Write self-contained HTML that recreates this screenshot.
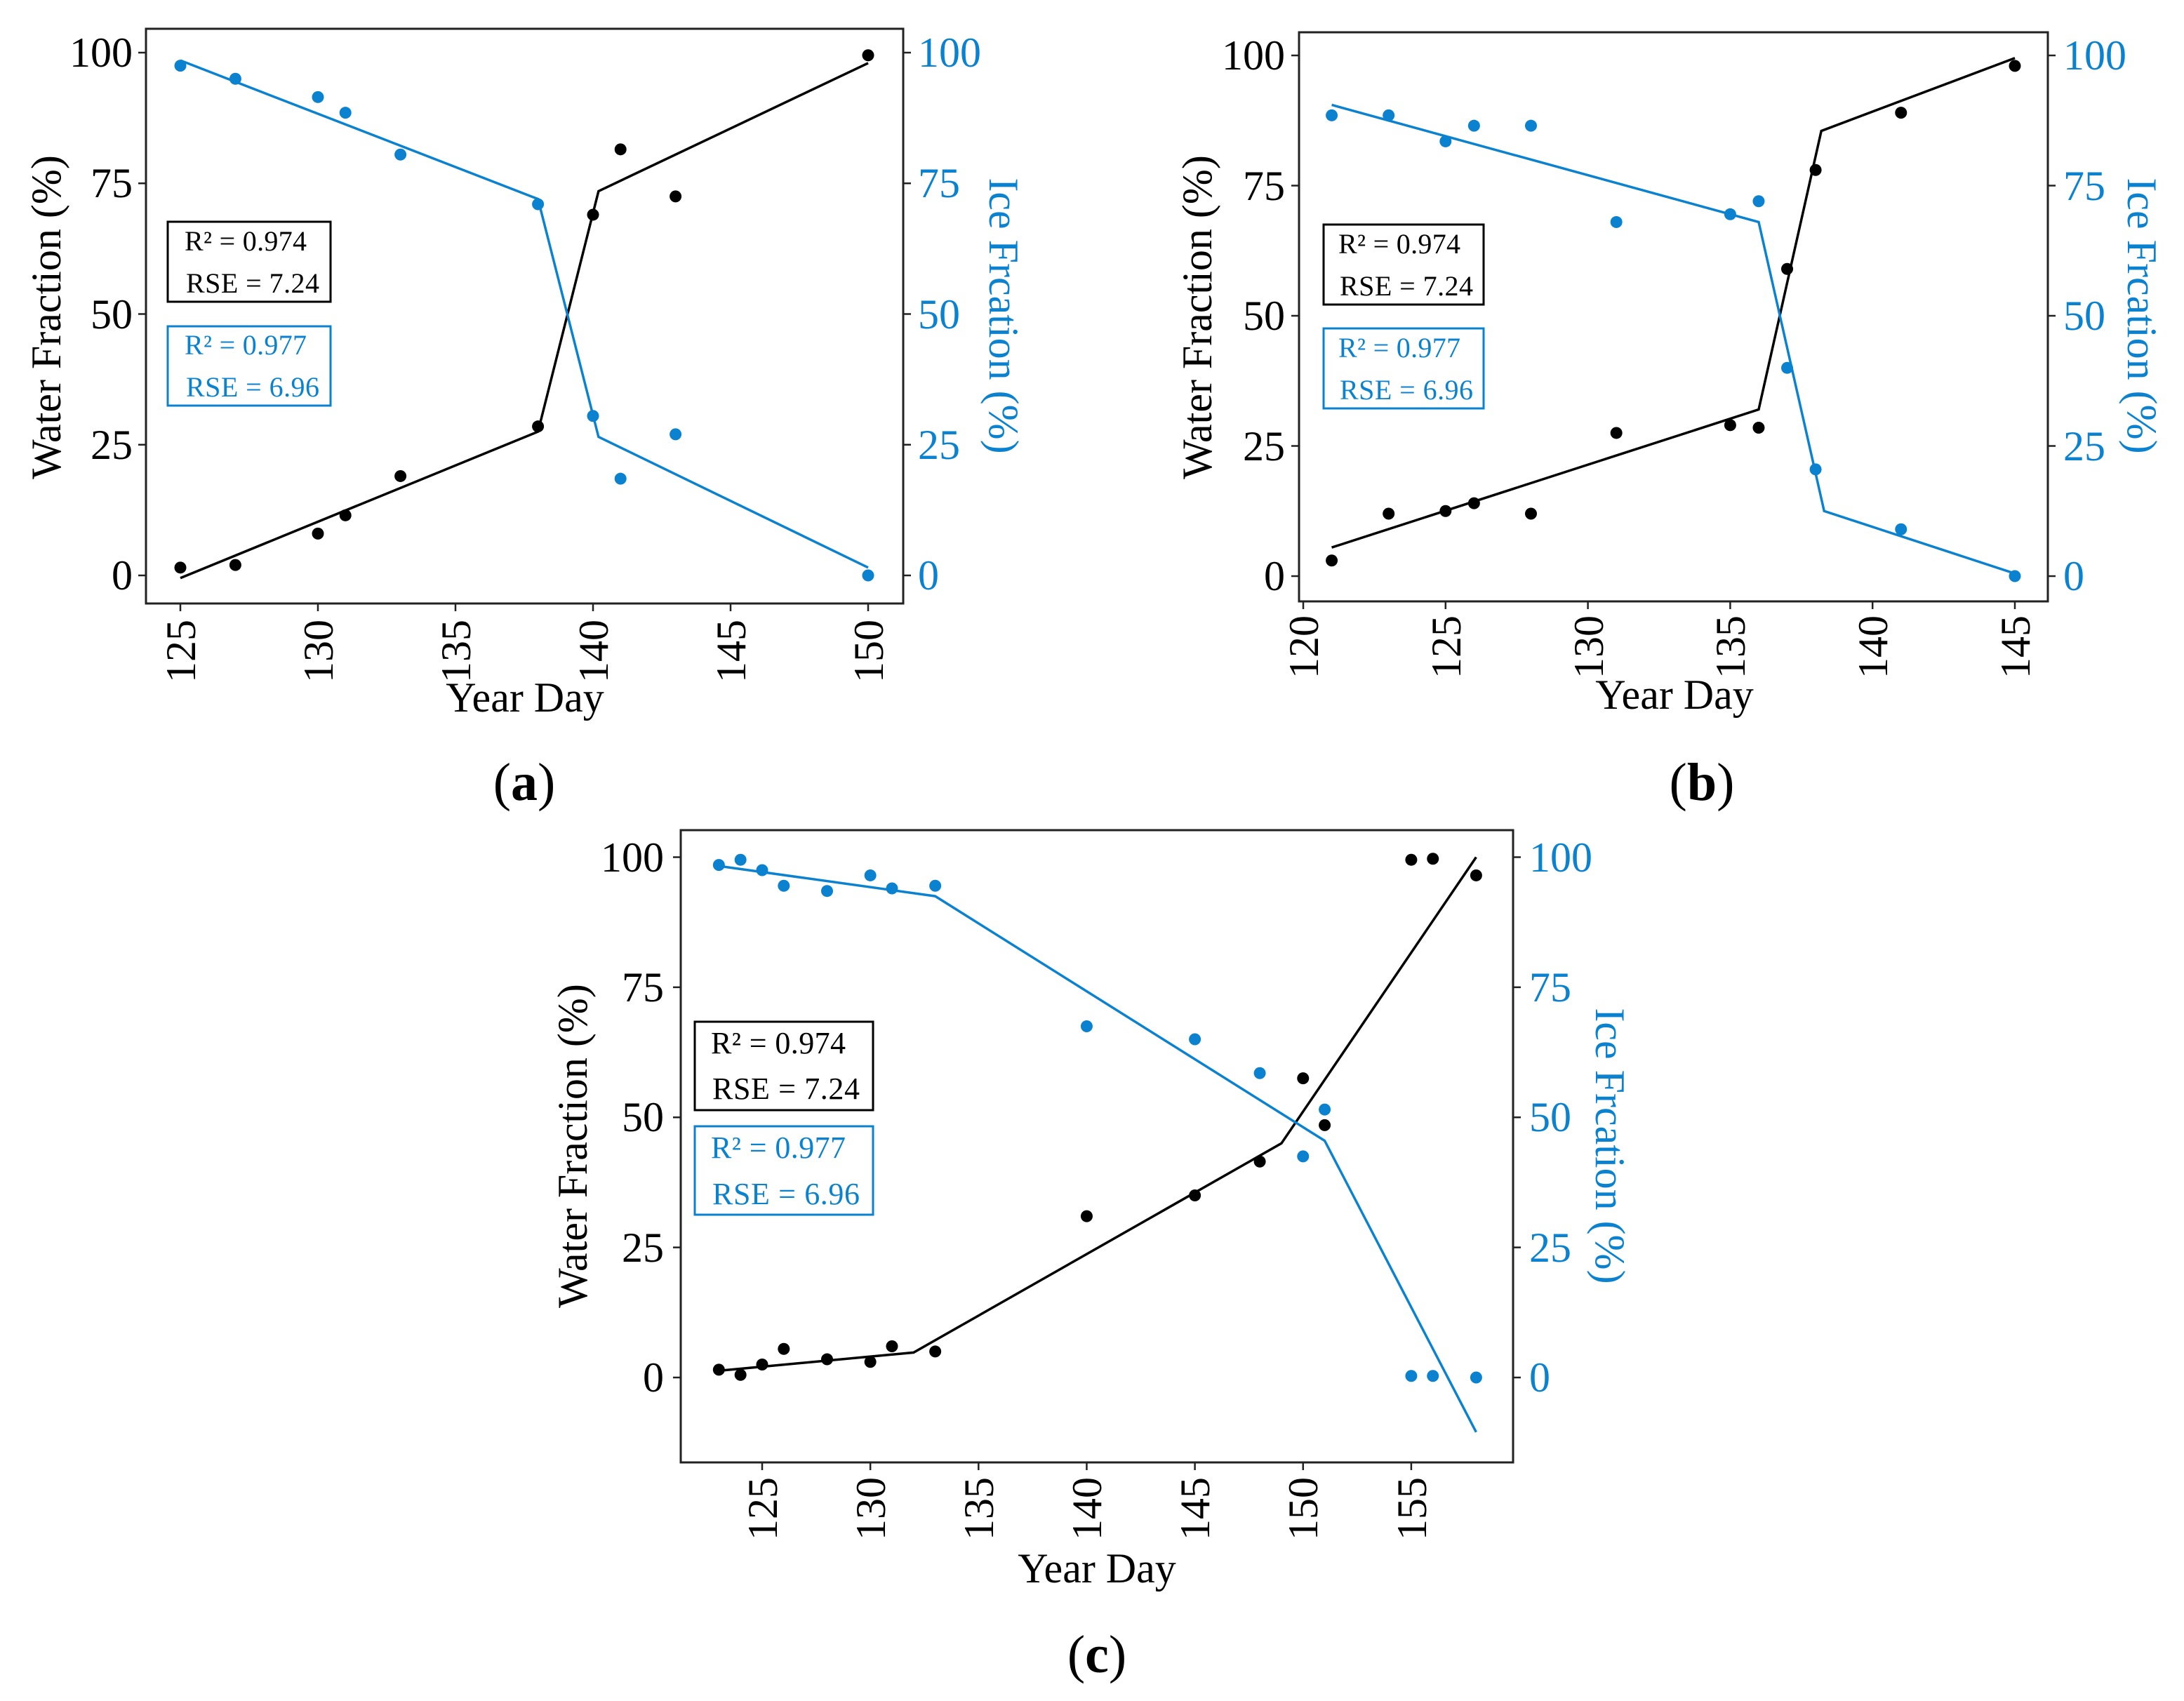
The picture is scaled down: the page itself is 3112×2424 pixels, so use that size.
<!DOCTYPE html>
<html><head><meta charset="utf-8"><style>
html,body{margin:0;padding:0;background:#fff;}
svg{display:block;}
text{font-family:"Liberation Serif",serif;}
.t{font-size:60px;fill:#000;}
.tb{font-size:60px;fill:#0b82d0;}
.lg{font-size:40px;fill:#000;}
.lgb{font-size:40px;fill:#0b82d0;}
.ax{font-size:60px;fill:#000;}
.axb{font-size:60px;fill:#0b82d0;}
.pl{font-size:76px;fill:#000;}
</style></head><body>
<svg id="s" width="3112" height="2424" viewBox="0 0 3112 2424" xmlns="http://www.w3.org/2000/svg">
<rect width="3112" height="2424" fill="#fff"/>
<g id="shapes"></g>

<!-- Panel a text -->
<g text-anchor="end" class="t"><text x="189" y="95">100</text><text x="189" y="281">75</text><text x="189" y="468">50</text><text x="189" y="654">25</text><text x="189" y="840">0</text></g>
<g class="tb"><text x="1308" y="95">100</text><text x="1308" y="281">75</text><text x="1308" y="468">50</text><text x="1308" y="654">25</text><text x="1308" y="840">0</text></g>
<g text-anchor="end" class="t">
<text transform="translate(278,883) rotate(-90)">125</text>
<text transform="translate(474,883) rotate(-90)">130</text>
<text transform="translate(670,883) rotate(-90)">135</text>
<text transform="translate(866,883) rotate(-90)">140</text>
<text transform="translate(1062,883) rotate(-90)">145</text>
<text transform="translate(1258,883) rotate(-90)">150</text>
</g>
<text class="ax" text-anchor="middle" transform="translate(86,452) rotate(-90)">Water Fraction (%)</text>
<text class="axb" text-anchor="middle" transform="translate(1410,450) rotate(90)">Ice Frcation (%)</text>
<text class="ax" text-anchor="middle" x="748" y="1014">Year Day</text>
<text class="pl" text-anchor="middle" x="747" y="1140">(<tspan font-weight="bold">a</tspan>)</text>
<rect x="239" y="316" width="232" height="114" fill="none" stroke="#000" stroke-width="3"/>
<text class="lg" x="263" y="357" textLength="174">R² = 0.974</text>
<text class="lg" x="265" y="417" textLength="190">RSE = 7.24</text>
<rect x="239" y="465" width="232" height="113" fill="none" stroke="#0b82d0" stroke-width="3"/>
<text class="lgb" x="263" y="505" textLength="174">R² = 0.977</text>
<text class="lgb" x="265" y="565" textLength="190">RSE = 6.96</text>

<!-- Panel b text -->
<g text-anchor="end" class="t"><text x="1831" y="99">100</text><text x="1831" y="285">75</text><text x="1831" y="470">50</text><text x="1831" y="656">25</text><text x="1831" y="841">0</text></g>
<g class="tb"><text x="2940" y="99">100</text><text x="2940" y="285">75</text><text x="2940" y="470">50</text><text x="2940" y="656">25</text><text x="2940" y="841">0</text></g>
<g text-anchor="end" class="t">
<text transform="translate(1878,877) rotate(-90)">120</text>
<text transform="translate(2081,877) rotate(-90)">125</text>
<text transform="translate(2284,877) rotate(-90)">130</text>
<text transform="translate(2486,877) rotate(-90)">135</text>
<text transform="translate(2689,877) rotate(-90)">140</text>
<text transform="translate(2892,877) rotate(-90)">145</text>
</g>
<text class="ax" text-anchor="middle" transform="translate(1726,452) rotate(-90)">Water Fraction (%)</text>
<text class="axb" text-anchor="middle" transform="translate(3032,450) rotate(90)">Ice Frcation (%)</text>
<text class="ax" text-anchor="middle" x="2386" y="1010">Year Day</text>
<text class="pl" text-anchor="middle" x="2425" y="1140">(<tspan font-weight="bold">b</tspan>)</text>
<rect x="1886" y="320" width="228" height="114" fill="none" stroke="#000" stroke-width="3"/>
<text class="lg" x="1907" y="361" textLength="174">R² = 0.974</text>
<text class="lg" x="1909" y="421" textLength="190">RSE = 7.24</text>
<rect x="1886" y="468" width="228" height="114" fill="none" stroke="#0b82d0" stroke-width="3"/>
<text class="lgb" x="1907" y="509" textLength="174">R² = 0.977</text>
<text class="lgb" x="1909" y="569" textLength="190">RSE = 6.96</text>

<!-- Panel c text -->
<g text-anchor="end" class="t"><text x="946" y="1242">100</text><text x="946" y="1427">75</text><text x="946" y="1612">50</text><text x="946" y="1798">25</text><text x="946" y="1983">0</text></g>
<g class="tb"><text x="2179" y="1242">100</text><text x="2179" y="1427">75</text><text x="2179" y="1612">50</text><text x="2179" y="1798">25</text><text x="2179" y="1983">0</text></g>
<g text-anchor="end" class="t">
<text transform="translate(1107,2105) rotate(-90)">125</text>
<text transform="translate(1261,2105) rotate(-90)">130</text>
<text transform="translate(1415,2105) rotate(-90)">135</text>
<text transform="translate(1569,2105) rotate(-90)">140</text>
<text transform="translate(1723,2105) rotate(-90)">145</text>
<text transform="translate(1877,2105) rotate(-90)">150</text>
<text transform="translate(2032,2105) rotate(-90)">155</text>
</g>
<text class="ax" text-anchor="middle" transform="translate(836,1633) rotate(-90)">Water Fraction (%)</text>
<text class="axb" text-anchor="middle" transform="translate(2274,1633) rotate(90)">Ice Frcation (%)</text>
<text class="ax" text-anchor="middle" x="1563" y="2255">Year Day</text>
<text class="pl" text-anchor="middle" x="1563" y="2383">(<tspan font-weight="bold">c</tspan>)</text>
<rect x="990" y="1456" width="254" height="126" fill="none" stroke="#000" stroke-width="3"/>
<text class="lg" x="1013" y="1501" textLength="192" style="font-size:44px">R² = 0.974</text>
<text class="lg" x="1015" y="1566" textLength="210" style="font-size:44px">RSE = 7.24</text>
<rect x="990" y="1605" width="254" height="126" fill="none" stroke="#0b82d0" stroke-width="3"/>
<text class="lgb" x="1013" y="1650" textLength="192" style="font-size:44px">R² = 0.977</text>
<text class="lgb" x="1015" y="1716" textLength="210" style="font-size:44px">RSE = 6.96</text>
</svg>
<script>
(function(){
var NS="http://www.w3.org/2000/svg",g=document.getElementById("shapes");
function el(n,a){var e=document.createElementNS(NS,n);for(var k in a)e.setAttribute(k,a[k]);g.appendChild(e);return e;}
var BLUE="#0b82d0";
function panel(p){
  var X=function(d){return p.x0+(d-p.d0)*p.dx;},Y=function(v){return p.y0-v*p.vy;};
  el("rect",{x:p.L,y:p.T,width:p.R-p.L,height:p.B-p.T,fill:"none",stroke:"#222","stroke-width":3});
  [0,25,50,75,100].forEach(function(v){var y=Y(v);
    el("line",{x1:p.L-11,y1:y,x2:p.L,y2:y,stroke:"#222","stroke-width":2.5});
    el("line",{x1:p.R,y1:y,x2:p.R+11,y2:y,stroke:"#222","stroke-width":2.5});});
  p.xt.forEach(function(d){var x=X(d);el("line",{x1:x,y1:p.B,x2:x,y2:p.B+11,stroke:"#222","stroke-width":2.5});});
  function line(pts,c){el("polyline",{points:pts.map(function(q){return X(q[0])+","+Y(q[1]);}).join(" "),fill:"none",stroke:c,"stroke-width":3.5});}
  function dots(pts,c){pts.forEach(function(q){el("circle",{cx:X(q[0]),cy:Y(q[1]),r:8.5,fill:c});});}
  line(p.bl,"#000");line(p.ul,BLUE);dots(p.bp,"#000");dots(p.up,BLUE);
}
panel({L:208,R:1287,T:41,B:860,x0:257,d0:125,dx:39.2,y0:820,vy:7.45,xt:[125,130,135,140,145,150],
 bp:[[125,1.5],[127,2],[130,8],[131,11.5],[133,19],[138,28.5],[140,69],[141,81.5],[143,72.5],[150,99.5]],
 bl:[[125,-0.5],[138,27.5],[140.2,73.5],[150,98]],
 up:[[125,97.5],[127,95],[130,91.5],[131,88.5],[133,80.5],[138,71],[140,30.5],[141,18.5],[143,27],[150,0]],
 ul:[[125,98.5],[138,72],[140.2,26.5],[150,1.5]]});
panel({L:1851,R:2918,T:46,B:857,x0:1857,d0:120,dx:40.56,y0:821,vy:7.42,xt:[120,125,130,135,140,145],
 bp:[[121,3],[123,12],[125,12.5],[126,14],[128,12],[131,27.5],[135,29],[136,28.5],[137,59],[138,78],[141,89],[145,98]],
 bl:[[121,5.5],[136,32],[138.2,85.5],[145,99.5]],
 up:[[121,88.5],[123,88.5],[125,83.5],[126,86.5],[128,86.5],[131,68],[135,69.5],[136,72],[137,40],[138,20.5],[141,9],[145,0]],
 ul:[[121,90.5],[136,68],[138.3,12.5],[145,0.5]]});
panel({L:970,R:2156,T:1183,B:2084,x0:1086,d0:125,dx:30.83,y0:1963,vy:7.415,xt:[125,130,135,140,145,150,155],
 bp:[[123,1.5],[124,0.5],[125,2.5],[126,5.5],[128,3.5],[130,3],[131,6],[133,5],[140,31],[145,35],[148,41.5],[150,57.5],[151,48.5],[155,99.5],[156,99.7],[158,96.5]],
 bl:[[123,1.3],[132,4.8],[149,45],[158,100]],
 up:[[123,98.5],[124,99.5],[125,97.5],[126,94.5],[128,93.5],[130,96.5],[131,94],[133,94.5],[140,67.5],[145,65],[148,58.5],[150,42.5],[151,51.5],[155,0.3],[156,0.3],[158,0]],
 ul:[[123,98.3],[133,92.5],[151,45.5],[158,-10.5]]});
})();
</script>
</body></html>
